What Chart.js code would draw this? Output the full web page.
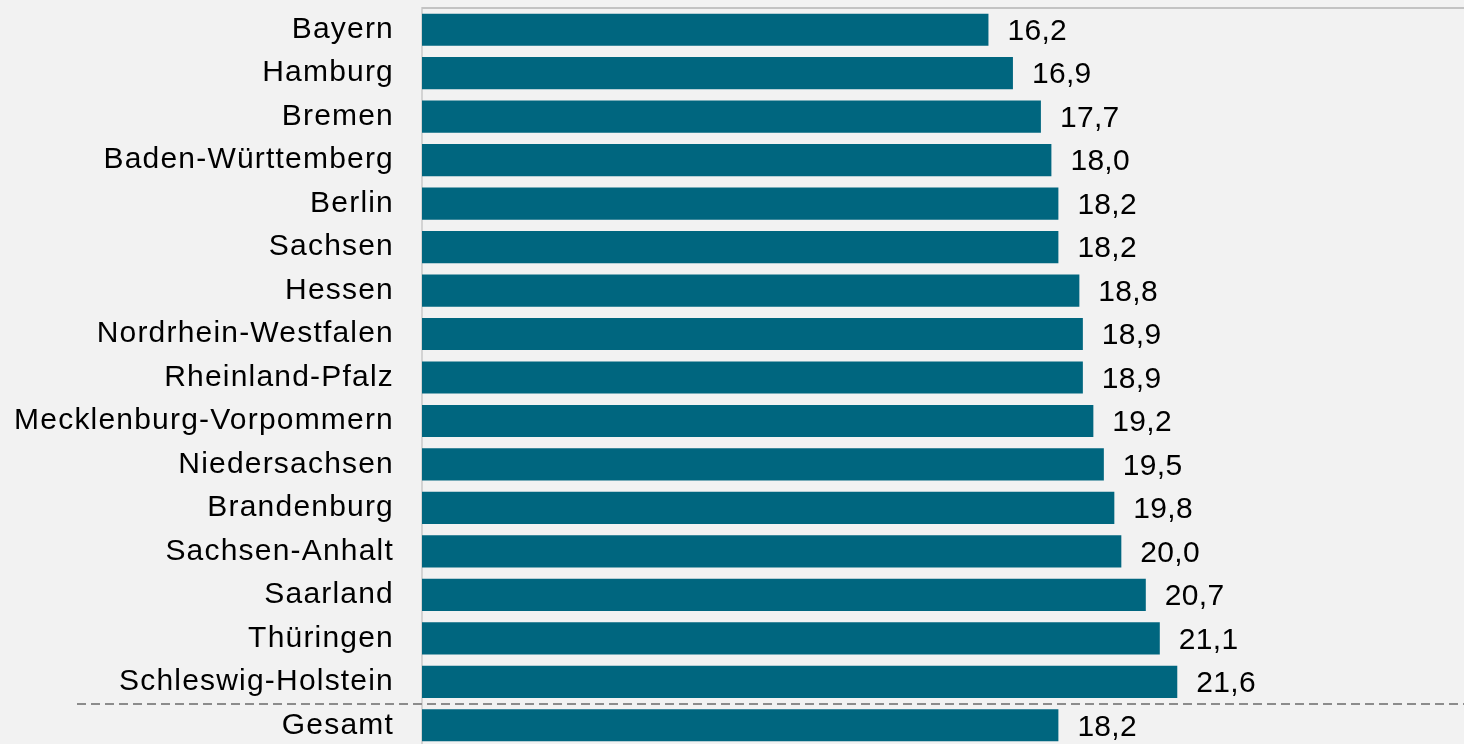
<!DOCTYPE html>
<html>
<head>
<meta charset="utf-8">
<script src="https://cdn.jsdelivr.net/npm/chart.js@4"></script>
<style>
  html, body { margin: 0; padding: 0; background: #f2f2f2; overflow: hidden; }
  #wrap { position: relative; width: 1464px; height: 747px; }
</style>
</head>
<body>
<div id="wrap"><canvas id="Chart"></canvas></div>
<script>
// Bundesländer + Gesamt
const laender = ['Bayern', 'Hamburg', 'Bremen', 'Baden-Württemberg', 'Berlin', 'Sachsen', 'Hessen',
	'Nordrhein-Westfalen', 'Rheinland-Pfalz', 'Mecklenburg-Vorpommern', 'Niedersachsen',
	'Brandenburg', 'Sachsen-Anhalt', 'Saarland', 'Thüringen', 'Schleswig-Holstein', 'Gesamt'];
const werte = [16.2, 16.9, 17.7, 18.0, 18.2, 18.2, 18.8, 18.9, 18.9, 19.2, 19.5, 19.8, 20.0, 20.7, 21.1, 21.6, 18.2];

const fontName = '"Liberation Sans", Arial, sans-serif';

// etwas breitere Schrift wie im Original
const schrift = {
	id: 'schrift',
	beforeDraw(chart) {
		chart.ctx.letterSpacing = '1.2px';
	}
};

// Werte rechts neben die Balken schreiben
const wertLabels = {
	id: 'wertLabels',
	afterDatasetsDraw(chart) {
		const ctx = chart.ctx;
		const meta = chart.getDatasetMeta(0);
		ctx.save();
		ctx.letterSpacing = '0.3px';
		ctx.font = '30px ' + fontName;
		ctx.fillStyle = '#000';
		ctx.textBaseline = 'middle';
		ctx.textAlign = 'left';
		meta.data.forEach((bar, i) => {
			ctx.fillText(werte[i].toFixed(1).replace('.', ','), bar.x + 19, bar.y + 2);
		});
		ctx.restore();
	}
};

// obere Linie und gestrichelte Trennlinie vor "Gesamt"
const linien = {
	id: 'linien',
	afterDraw(chart) {
		const ctx = chart.ctx;
		const area = chart.chartArea;
		const y = chart.scales.y;
		ctx.save();
		ctx.strokeStyle = '#c3c3c3';
		ctx.lineWidth = 2;
		ctx.beginPath();
		ctx.moveTo(area.left, area.top);
		ctx.lineTo(area.right, area.top);
		ctx.stroke();

		const n = laender.length;
		const yy = Math.round((y.getPixelForValue(n - 2) + y.getPixelForValue(n - 1)) / 2);
		ctx.strokeStyle = '#8c8c8c';
		ctx.lineWidth = 2;
		ctx.setLineDash([9, 5]);
		ctx.beginPath();
		ctx.moveTo(77, yy);
		ctx.lineTo(chart.width, yy);
		ctx.stroke();
		ctx.restore();
	}
};

let barCtx = document.getElementById('Chart');
let barConfig = {
	type: 'bar',
	data: {
		labels: laender,
		datasets: [{
			data: werte,
			backgroundColor: '#00667f',
			categoryPercentage: 1,
			barPercentage: 0.74,
		}],
	},
	options: {
		indexAxis: 'y',
		responsive: true,
		maintainAspectRatio: false,
		animation: false,
		layout: { padding: { top: 8, right: 0, bottom: 0, left: 0 } },
		plugins: {
			legend: { display: false },
			tooltip: { enabled: false },
		},
		scales: {
			x: {
				display: false,
				min: 0,
				max: 29.8,
			},
			y: {
				afterFit(scale) {
					scale.width = 422;
					scale.paddingTop = 0;
					scale.paddingBottom = 0;
				},
				grid: { display: false, drawTicks: false },
				border: { display: true, color: '#d3d3d3', width: 2 },
				ticks: {
					padding: 28,
					color: '#000',
					font: { family: fontName, size: 30 },
				},
			},
		},
	},
	plugins: [schrift, wertLabels, linien],
};
let barChart = new Chart(barCtx, barConfig);
</script>
</body>
</html>
